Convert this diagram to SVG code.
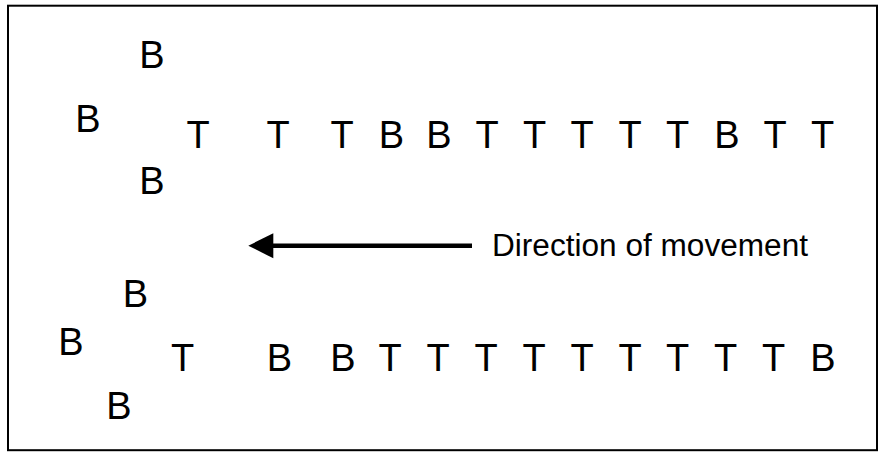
<svg xmlns="http://www.w3.org/2000/svg" width="878" height="453" viewBox="0 0 878 453">
<style>
.l{font-family:"Liberation Sans",Arial,sans-serif;font-size:38px;fill:#000;text-anchor:middle}
.lbl{font-family:"Liberation Sans",Arial,sans-serif;font-size:31px;fill:#000}
</style>
<rect x="8" y="5.7" width="869" height="444.5" fill="#fff" stroke="#000" stroke-width="2"/>
<g id="row1">
<g id="r1-top"><text class="l" x="152" y="68">B</text></g>
<g id="r1-left"><text class="l" x="88" y="132">B</text></g>
<g id="r1-bottom"><text class="l" x="152" y="194">B</text></g>
<g id="r1-1"><text class="l" x="198" y="148">T</text></g>
<g id="r1-2"><text class="l" x="278" y="148">T</text></g>
<g id="r1-3"><text class="l" x="342" y="148">T</text></g>
<g id="r1-4"><text class="l" x="391.5" y="148">B</text></g>
<g id="r1-5"><text class="l" x="439" y="148">B</text></g>
<g id="r1-6"><text class="l" x="487" y="148">T</text></g>
<g id="r1-7"><text class="l" x="534.5" y="148">T</text></g>
<g id="r1-8"><text class="l" x="582" y="148">T</text></g>
<g id="r1-9"><text class="l" x="630" y="148">T</text></g>
<g id="r1-10"><text class="l" x="677.5" y="148">T</text></g>
<g id="r1-11"><text class="l" x="727" y="148">B</text></g>
<g id="r1-12"><text class="l" x="775" y="148">T</text></g>
<g id="r1-13"><text class="l" x="822.5" y="148">T</text></g>
</g>
<g id="row2">
<g id="r2-top"><text class="l" x="135.5" y="306.5">B</text></g>
<g id="r2-left"><text class="l" x="71" y="355">B</text></g>
<g id="r2-bottom"><text class="l" x="119" y="419">B</text></g>
<g id="r2-1"><text class="l" x="182.5" y="370.5">T</text></g>
<g id="r2-2"><text class="l" x="279.5" y="370.5">B</text></g>
<g id="r2-3"><text class="l" x="343" y="370.5">B</text></g>
<g id="r2-4"><text class="l" x="390" y="370.5">T</text></g>
<g id="r2-5"><text class="l" x="438" y="370.5">T</text></g>
<g id="r2-6"><text class="l" x="486" y="370.5">T</text></g>
<g id="r2-7"><text class="l" x="534" y="370.5">T</text></g>
<g id="r2-8"><text class="l" x="582" y="370.5">T</text></g>
<g id="r2-9"><text class="l" x="630" y="370.5">T</text></g>
<g id="r2-10"><text class="l" x="677.5" y="370.5">T</text></g>
<g id="r2-11"><text class="l" x="725.5" y="370.5">T</text></g>
<g id="r2-12"><text class="l" x="773.5" y="370.5">T</text></g>
<g id="r2-13"><text class="l" x="823" y="370.5">B</text></g>
</g>
<g id="connectors">
<line x1="472" y1="245.7" x2="273" y2="245.7" stroke="#000" stroke-width="4.5"/>
<path d="M248.3,245.7 L273.3,233.3 L273.3,258.3 Z" fill="#000"/>
</g>
<g id="label"><text class="lbl" x="492" y="255.5" textLength="316" lengthAdjust="spacingAndGlyphs">Direction of movement</text></g>
</svg>
